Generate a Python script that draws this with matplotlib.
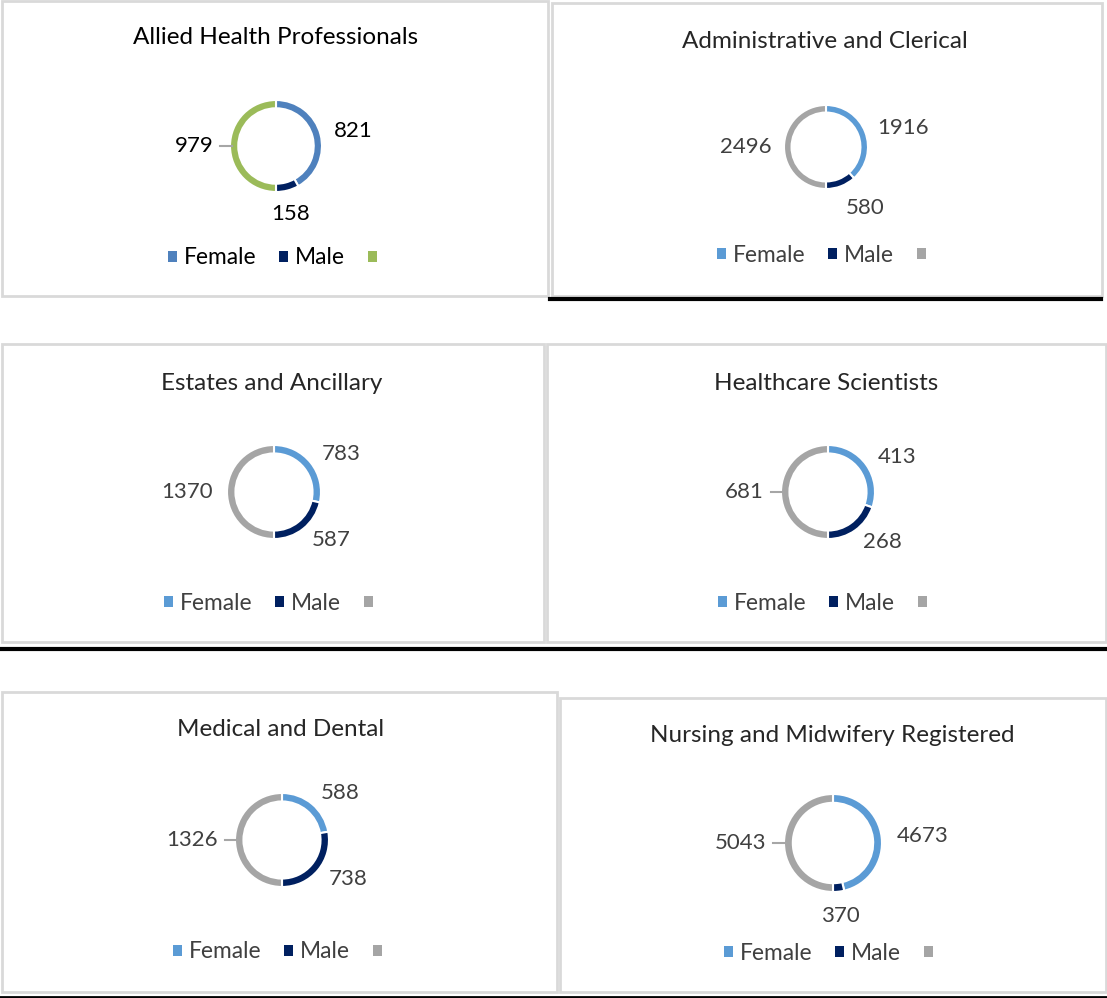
import numpy as np
import matplotlib
matplotlib.use('Agg')
import matplotlib.pyplot as plt
from matplotlib.patches import Rectangle, Patch
from matplotlib.lines import Line2D

plt.rcParams['font.family'] = ['Lato', 'DejaVu Sans']

# staff groups, female / male headcounts (third slice = total, hidden half)
titles = ['Allied Health Professionals', 'Administrative and Clerical',
          'Estates and Ancillary', 'Healthcare Scientists',
          'Medical and Dental', 'Nursing and Midwifery Registered']
female = [821, 1916, 783, 413, 588, 4673]
male = [158, 580, 587, 268, 738, 370]
total = [979, 2496, 1370, 681, 1326, 5043]
legend_labels = ['Female', 'Male', '']

W, H = 1107, 998
fig = plt.figure(figsize=(W / 100, H / 100), dpi=100)


def fx(x):
    return x / W


def fy(y):
    return 1 - y / H


# panel frames (left, top, right, bottom) in pixels
frames = [(2, 1, 548, 296), (552, 3, 1102, 296),
          (2, 344, 544, 642), (547, 344, 1106, 642),
          (2, 692, 557, 992), (560, 698, 1106, 992)]
# donut centre x, y, radius; title y; legend y
centres = [(276, 146, 46), (826, 147, 42),
           (274, 492, 47), (828, 492, 47),
           (282, 840, 47), (833, 843, 49)]
title_y = [37, 41, 383, 383, 730, 735]
title_x = [276, 825, 272, 826, 281, 832]
legend_y = [258, 255, 603, 603, 952, 953]
leader = [True, False, False, True, True, True]

for (l, t, r, b) in frames:
    fig.patches.append(Rectangle((fx(l), fy(b)), fx(r) - fx(l), fy(t) - fy(b),
                                 transform=fig.transFigure, fill=False,
                                 edgecolor='#D9D9D9', linewidth=2))

# black separator rules
for (x0, x1, y, lw) in [(550, 1101, 298.5, 3), (0, 1107, 649, 3), (0, 1107, 996.5, 2)]:
    fig.lines.append(Line2D([fx(x0), fx(x1)], [fy(y), fy(y)], transform=fig.transFigure,
                            color='black', linewidth=lw))

for i in range(6):
    if i == 0:
        cols = ['#4F81BD', '#002060', '#9BBB59']
        tcol = 'black'
        lcol = 'black'
    else:
        cols = ['#5B9BD5', '#002060', '#A5A5A5']
        tcol = '#262626'
        lcol = '#404040'
    cx, cy, R = centres[i]
    ax = fig.add_axes([fx(cx - R), fy(cy + R), 2 * R / W, 2 * R / H])
    vals = [female[i], male[i], total[i]]
    ax.pie(vals, radius=1, startangle=90, counterclock=False, colors=cols,
           wedgeprops=dict(width=0.18, edgecolor='white', linewidth=1.5))
    ax.set_xlim(-1, 1)
    ax.set_ylim(-1, 1)
    ax.axis('off')

    # data labels at wedge middles
    cum = np.cumsum([0] + vals)
    s = cum[-1]
    for k in range(3):
        th = np.deg2rad((cum[k] + cum[k + 1]) / 2 / s * 360)
        sx, cy_ = np.sin(th), np.cos(th)
        d = 1.3
        if k == 2 and leader[i]:
            d = 1.36
            ax.plot([-0.95, -1.22], [0, 0], color='#A6A6A6', lw=1.5, clip_on=False)
        ha = 'left' if sx > 0.3 else ('right' if sx < -0.3 else 'center')
        va = 'center'
        if cy_ < -0.9:
            va = 'top'
        elif cy_ > 0.9:
            va = 'bottom'
        ax.text(d * sx, d * cy_, str(vals[k]), ha=ha, va=va, fontsize=16,
                color=lcol, clip_on=False)

    fig.text(fx(title_x[i]), fy(title_y[i]), titles[i], ha='center', va='center',
             fontsize=17.5, color=tcol)

    handles = [Patch(facecolor=c, edgecolor='none') for c in cols]
    fig.legend(handles, legend_labels, loc='center',
               bbox_to_anchor=(fx(title_x[i]), fy(legend_y[i])), ncol=3,
               frameon=False, fontsize=16.4, handlelength=0.4, handleheight=0.4,
               handletextpad=0.3, columnspacing=1.0, labelcolor=lcol)

fig.savefig('out.png', dpi=100)
